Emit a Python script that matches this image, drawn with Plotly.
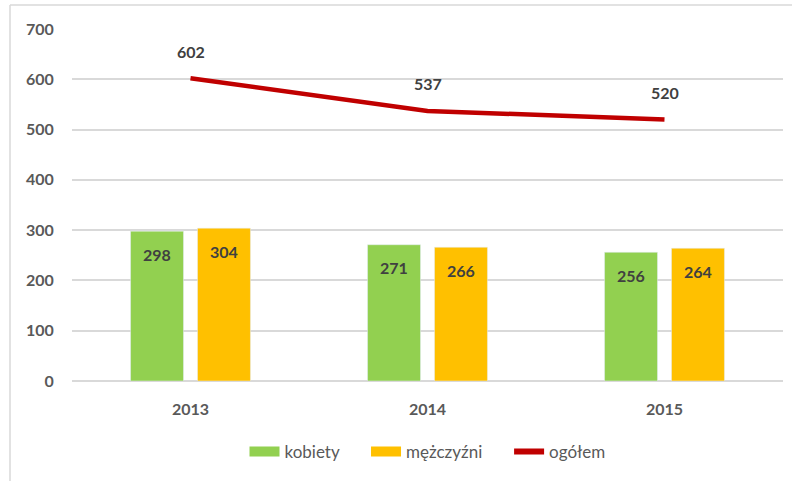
import plotly.graph_objects as go

years = ["2013", "2014", "2015"]
kobiety = [298, 271, 256]
mezczyzni = [304, 266, 264]
ogolem = [602, 537, 520]
y_ticks = [0, 100, 200, 300, 400, 500, 600, 700]

GREEN = "#92D050"
YELLOW = "#FFC000"
RED = "#C00000"
LABEL = "#404040"
TICK = "#595959"
FONT = "Lato"
PAD = "\u00a0" * 5

fig = go.Figure()
fig.add_trace(go.Bar(x=years, y=kobiety, name="kobiety", marker_color=GREEN,
                     legendgroup="k", showlegend=False))
fig.add_trace(go.Bar(x=years, y=mezczyzni, name="mężczyźni", marker_color=YELLOW,
                     legendgroup="m", showlegend=False))
fig.add_trace(go.Scatter(x=years, y=ogolem, name="ogółem", mode="lines",
                         line=dict(color=RED, width=4.5), showlegend=False,
                         legendgroup="o"))
# legend entries (wide swatches like the original)
fig.add_trace(go.Scatter(x=[None], y=[None], mode="lines", name="kobiety" + PAD,
                         line=dict(color=GREEN, width=12), legendgroup="k"))
fig.add_trace(go.Scatter(x=[None], y=[None], mode="lines", name="mężczyźni" + PAD,
                         line=dict(color=YELLOW, width=12), legendgroup="m"))
fig.add_trace(go.Scatter(x=[None], y=[None], mode="lines", name="ogółem",
                         line=dict(color=RED, width=6), legendgroup="o"))

ann = []
for i, v in enumerate(kobiety):
    ann.append(dict(x=i, y=v, text=f"<b>{v}</b>", showarrow=False, xshift=-33.5,
                    yanchor="middle", yshift=-23,
                    font=dict(family=FONT, size=16, color=LABEL)))
for i, v in enumerate(mezczyzni):
    ann.append(dict(x=i, y=v, text=f"<b>{v}</b>", showarrow=False, xshift=33.5,
                    yanchor="middle", yshift=-23,
                    font=dict(family=FONT, size=16, color=LABEL)))
for i, v in enumerate(ogolem):
    ann.append(dict(x=i, y=v, text=f"<b>{v}</b>", showarrow=False,
                    yanchor="middle", yshift=27,
                    font=dict(family=FONT, size=16, color=LABEL)))

# chart frame (top and left edges)
shapes = [
    dict(type="line", xref="paper", yref="paper", x0=-0.0872, x1=1.02, y0=1.068, y1=1.068,
         line=dict(color="#D9D9D9", width=1.5)),
    dict(type="line", xref="paper", yref="paper", x0=-0.0872, x1=-0.0872, y0=1.068, y1=-0.3,
         line=dict(color="#D9D9D9", width=1.5)),
]

fig.update_layout(
    width=792, height=481,
    margin=dict(l=72, r=9, t=29, b=100),
    paper_bgcolor="white", plot_bgcolor="white",
    barmode="group", bargap=0.435, bargroupgap=0.209,
    font=dict(family=FONT, color=TICK),
    annotations=ann, shapes=shapes,
    showlegend=True,
    legend=dict(orientation="h", x=0.5, xanchor="center", y=-0.2017, yanchor="middle",
                font=dict(family=FONT, size=17, color=TICK), itemwidth=30,
                traceorder="normal"),
    xaxis=dict(type="category", categoryorder="array", categoryarray=years,
               range=[-0.5, 2.5],
               showgrid=False, showline=False, ticks="outside", ticklen=14,
               tickcolor="rgba(0,0,0,0)",
               tickvals=years, ticktext=[f"<b>{y}</b>" for y in years],
               tickfont=dict(family=FONT, size=16, color=TICK)),
    yaxis=dict(range=[0, 700], tickvals=y_ticks, ticktext=[f"<b>{t}</b>" for t in y_ticks],
               showgrid=True, gridcolor="#D9D9D9",
               gridwidth=1.5, zeroline=True, zerolinecolor="#D9D9D9", zerolinewidth=1.5,
               showline=False, ticks="outside", ticklen=14, tickcolor="rgba(0,0,0,0)",
               tickfont=dict(family=FONT, size=16, color=TICK)),
)

fig.write_html("out.html", config={"displayModeBar": False},
               post_script="document.body.style.margin='0';")
